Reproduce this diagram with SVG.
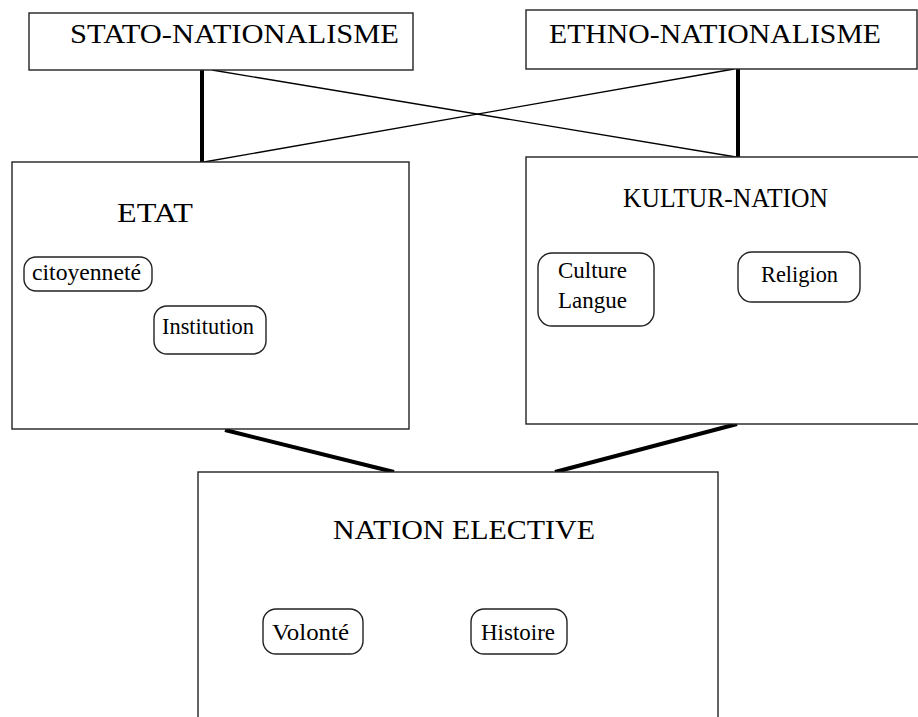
<svg xmlns="http://www.w3.org/2000/svg" width="918" height="717" viewBox="0 0 918 717">
<style>
.box{fill:#fff;stroke:#222;stroke-width:1.4}
.pill{fill:#fff;stroke:#222;stroke-width:1.4}
text{font-family:'Liberation Serif','Times New Roman',serif;fill:#000}
.h{font-size:28px}
.s{font-size:23px}
.thick{stroke:#000;stroke-width:4;fill:none}
.thin{stroke:#000;stroke-width:1.3;fill:none}
</style>
<rect width="918" height="717" fill="#fff"/>
<g id="connectors">
<line class="thin" x1="212" y1="70" x2="736" y2="157"/>
<line class="thin" x1="734" y1="69" x2="204" y2="162"/>
<line class="thick" x1="202" y1="70" x2="202" y2="162"/>
<line class="thick" x1="738" y1="69" x2="738" y2="157"/>
<line class="thick" x1="225" y1="430" x2="394" y2="472"/>
<line class="thick" x1="737" y1="424" x2="555" y2="472"/>
</g>
<g id="stato">
<rect class="box" x="29" y="13" width="384" height="57"/>
<text class="h" x="70" y="43" textLength="329" lengthAdjust="spacingAndGlyphs">STATO-NATIONALISME</text>
</g>
<g id="ethno">
<rect class="box" x="526" y="10" width="391" height="59"/>
<text class="h" x="549" y="43" textLength="332" lengthAdjust="spacingAndGlyphs">ETHNO-NATIONALISME</text>
</g>
<g id="etat">
<rect class="box" x="12" y="162" width="397" height="267"/>
<text class="h" x="117" y="222" textLength="76" lengthAdjust="spacingAndGlyphs">ETAT</text>
<g id="citoyennete">
<rect class="pill" x="24" y="257" width="128" height="34" rx="12"/>
<text class="s" x="32" y="280" textLength="109" lengthAdjust="spacingAndGlyphs">citoyenneté</text>
</g>
<g id="institution">
<rect class="pill" x="154" y="306" width="112" height="48" rx="13"/>
<text class="s" x="162" y="334" textLength="92" lengthAdjust="spacingAndGlyphs">Institution</text>
</g>
</g>
<g id="kultur">
<rect class="box" x="526" y="157" width="420" height="267"/>
<text class="h" x="623" y="207" textLength="205" lengthAdjust="spacingAndGlyphs">KULTUR-NATION</text>
<g id="culture-langue">
<rect class="pill" x="538" y="253" width="116" height="73" rx="14"/>
<text class="s" x="558" y="278" textLength="69" lengthAdjust="spacingAndGlyphs">Culture</text>
<text class="s" x="558" y="308" textLength="69" lengthAdjust="spacingAndGlyphs">Langue</text>
</g>
<g id="religion">
<rect class="pill" x="738" y="252" width="122" height="50" rx="14"/>
<text class="s" x="761" y="282" textLength="77" lengthAdjust="spacingAndGlyphs">Religion</text>
</g>
</g>
<g id="nation-elective">
<rect class="box" x="198" y="472" width="520" height="260"/>
<text class="h" x="333" y="539" textLength="262" lengthAdjust="spacingAndGlyphs">NATION ELECTIVE</text>
<g id="volonte">
<rect class="pill" x="263" y="609" width="100" height="45" rx="13"/>
<text class="s" x="272" y="640" textLength="77" lengthAdjust="spacingAndGlyphs">Volonté</text>
</g>
<g id="histoire">
<rect class="pill" x="471" y="609" width="96" height="45" rx="13"/>
<text class="s" x="481" y="640" textLength="74" lengthAdjust="spacingAndGlyphs">Histoire</text>
</g>
</g>
</svg>
